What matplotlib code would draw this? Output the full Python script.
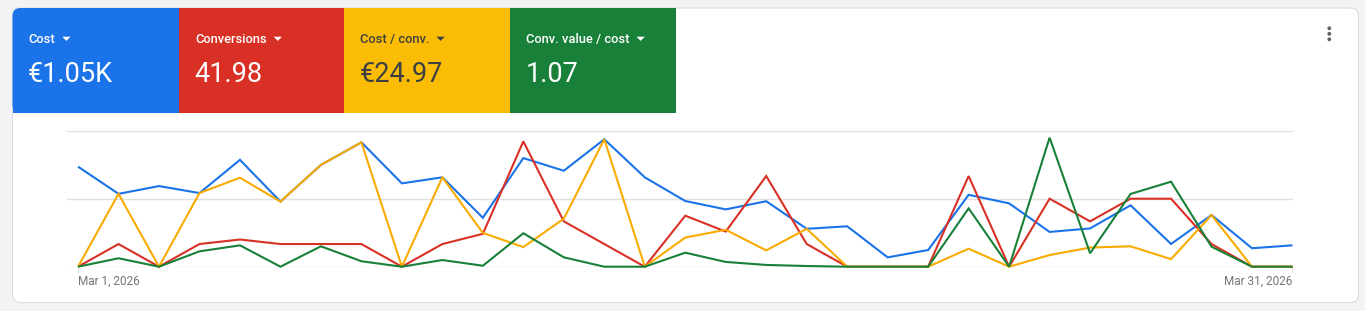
import matplotlib
matplotlib.use('Agg')
import matplotlib.pyplot as plt
import matplotlib.dates as mdates
from matplotlib.patches import FancyBboxPatch, Rectangle, Polygon, Circle
from matplotlib import transforms
import pandas as pd

# ---------------- data ----------------
dates = pd.date_range('2026-03-01', '2026-03-31', freq='D')

cost = [51.5, 37.5, 41.5, 37.9, 55.0, 33.5, 52.4, 64.0, 42.9, 46.0,
        25.2, 55.9, 49.4, 65.6, 46.0, 33.8, 29.5, 33.7, 19.5, 20.8,
        4.8, 8.6, 37.0, 32.6, 17.9, 19.7, 31.6, 11.7, 26.6, 9.5, 11.0]

conversions = [0, 1, 0, 1, 1.2, 1, 1, 1, 0, 1,
               1.45, 5.53, 2, 1, 0, 2.25, 1.55, 4, 1, 0,
               0, 0, 4, 0, 3, 2, 3, 3, 1, 0, 0]

cost_per_conv = [0, 37.5, 0, 37.9, 45.8, 33.5, 52.4, 64.0, 0, 46.0,
                 17.4, 10.1, 24.7, 65.6, 0, 15.0, 19.0, 8.4, 19.5, 0,
                 0, 0, 9.25, 0, 6.0, 9.85, 10.5, 3.9, 26.6, 0, 0]

conv_value_per_cost = [0, 0.62, 0, 1.13, 1.57, 0, 1.50, 0.40, 0, 0.49,
                       0.07, 2.46, 0.69, 0, 0, 1.03, 0.35, 0.13, 0.05, 0,
                       0, 0, 4.29, 0, 9.49, 0.99, 5.35, 6.25, 1.47, 0, 0]

tile_titles = ['Cost', 'Conversions', 'Cost / conv.', 'Conv. value / cost']
tile_values = ['€1.05K', '41.98', '€24.97', '1.07']
axis_max = [70, 6, 70, 10]
date_labels = ['Mar 1, 2026', 'Mar 31, 2026']

# ---------------- style ----------------
FONT = 'Roboto'
tile_colors = ['#1a73e8', '#d93025', '#fbbc04', '#188038']
tile_text_colors = ['white', 'white', '#3c4043', 'white']
line_colors = ['#1a73e8', '#d93025', '#f9ab00', '#188038']

W, H = 1365, 311
fig = plt.figure(figsize=(W / 100, H / 100), dpi=100)
fig.patch.set_facecolor('#f1f3f4')

bg = fig.add_axes([0, 0, 1, 1])
bg.set_xlim(0, W)
bg.set_ylim(H, 0)
bg.axis('off')

# card
card = FancyBboxPatch((12.5, 8), 1346, 294.5,
                      boxstyle='round,pad=0,rounding_size=8',
                      fc='white', ec='#dadce0', lw=0.8, zorder=1)
bg.add_patch(card)

# tiles
edges = [12.5, 179, 344, 510, 676]
ty0, ty1 = 8, 113
for i in range(4):
    x0, x1 = edges[i], edges[i + 1]
    if i == 0:
        bg.add_patch(FancyBboxPatch((x0, ty0), x1 - x0, ty1 - ty0,
                                    boxstyle='round,pad=0,rounding_size=8',
                                    fc=tile_colors[i], ec='none', zorder=2))
        bg.add_patch(Rectangle((x0 + 10, ty0), x1 - x0 - 10, ty1 - ty0,
                               fc=tile_colors[i], ec='none', zorder=2))
        bg.add_patch(Rectangle((x0, ty0 + 10), x1 - x0, ty1 - ty0 - 10,
                               fc=tile_colors[i], ec='none', zorder=2))
    else:
        bg.add_patch(Rectangle((x0, ty0), x1 - x0, ty1 - ty0,
                               fc=tile_colors[i], ec='none', zorder=2))

title_texts = []
for i in range(4):
    x0 = edges[i] + 16
    t = bg.text(x0, 43.3, tile_titles[i], color=tile_text_colors[i],
                fontsize=9.3, fontweight=500, family=FONT,
                va='baseline', ha='left', zorder=3)
    title_texts.append(t)
    bg.text(x0 - 0.5, 81.7, tile_values[i], color=tile_text_colors[i],
            fontsize=19.5, family=FONT, va='baseline', ha='left', zorder=3)

renderer = fig.canvas.get_renderer()
for i, t in enumerate(title_texts):
    bb = t.get_window_extent(renderer=renderer)
    xr = bb.x1
    tri = Polygon([(xr + 7, 36.7), (xr + 15.3, 36.7), (xr + 11.15, 40.9)],
                  closed=True, fc=tile_text_colors[i], ec='none', zorder=3)
    bg.add_patch(tri)

# kebab menu
for yy in (28.3, 33.8, 39.3):
    bg.add_patch(Circle((1329.3, yy), 1.9, fc='#5f6368', ec='none', zorder=3))

# ---------------- chart ----------------
x = mdates.date2num(dates)
px_left, px_right = 66.7, 1292.7
px_top, px_bottom = 130.7, 266.7
rect = [px_left / W, 1 - px_bottom / H, (px_right - px_left) / W, (px_bottom - px_top) / H]

series = [cost, conversions, cost_per_conv, conv_value_per_cost]
order = [0, 1, 2, 3]
axes = []
for k in range(4):
    ax = fig.add_axes(rect, label=f'series{k}')
    ax.set_facecolor('none')
    ax.set_xlim(x[0] - 0.28, x[-1] + 0.005)
    ax.axis('off')
    axes.append(ax)

ax0 = axes[0]
for frac in (0, 0.5, 1.0):
    ax0.axhline(frac * axis_max[0], color='#e0e0e0', lw=1.0, zorder=0)

for k in order:
    ax = axes[k]
    ax.set_ylim(0, axis_max[k])
    ax.plot(x, series[k], color=line_colors[k], lw=1.5, clip_on=False,
            solid_joinstyle='miter', solid_capstyle='butt', zorder=2 + k)

# ticks and date labels
blend = transforms.blended_transform_factory(ax0.transData, bg.transData)
for xv in (x[0], x[-1]):
    bg.plot([xv, xv], [px_bottom, px_bottom + 5], color='#dadce0', lw=0.8,
            transform=blend, zorder=1)
bg.text(x[0], 285, date_labels[0], transform=blend, ha='left', va='baseline',
        fontsize=8.5, color='#70757a', family=FONT)
bg.text(x[-1], 285, date_labels[1], transform=blend, ha='right', va='baseline',
        fontsize=8.5, color='#70757a', family=FONT)

fig.savefig('out.png', dpi=100, facecolor=fig.get_facecolor())
